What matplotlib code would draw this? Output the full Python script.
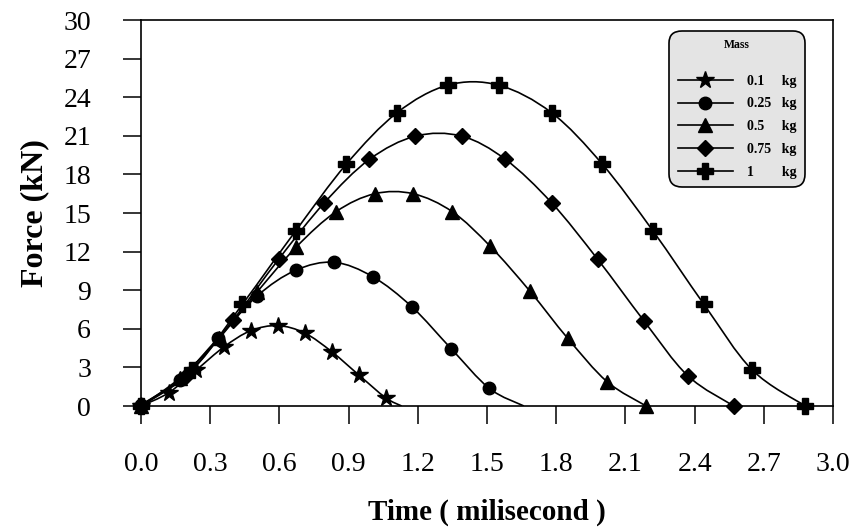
import numpy as np
import matplotlib
matplotlib.use("Agg")
import matplotlib.pyplot as plt
from matplotlib.path import Path
from matplotlib.patches import PathPatch
from matplotlib.lines import Line2D

plt.rcParams['font.family'] = ['Liberation Serif', 'DejaVu Serif']

# values (time in ms, force in kN)
masses = ["0.1", "0.25", "0.5", "0.75", "1"]

t_01 = [0.0, 0.12, 0.24, 0.36, 0.475, 0.593, 0.71, 0.827, 0.945, 1.06, 1.13]
f_01 = [0.0, 1.03, 2.8, 4.6, 5.85, 6.25, 5.67, 4.22, 2.4, 0.65, 0.0]

t_025 = [0.0, 0.168, 0.335, 0.503, 0.67, 0.837, 1.005, 1.175, 1.345, 1.51, 1.66]
f_025 = [0.1, 2.05, 5.3, 8.55, 10.55, 11.17, 10.05, 7.7, 4.45, 1.37, 0.0]

t_05 = [0.0, 0.17, 0.34, 0.505, 0.674, 0.845, 1.013, 1.18, 1.35, 1.515, 1.685, 1.85, 2.02, 2.19]
f_05 = [0.0, 2.2, 5.3, 8.9, 12.38, 15.1, 16.5, 16.5, 15.1, 12.4, 8.95, 5.26, 1.9, 0.0]

t_075 = [0.0, 0.2, 0.40, 0.597, 0.795, 0.99, 1.19, 1.39, 1.58, 1.78, 1.98, 2.18, 2.37, 2.57]
f_075 = [0.0, 2.4, 6.7, 11.42, 15.8, 19.17, 20.98, 20.98, 19.17, 15.8, 11.4, 6.63, 2.36, 0.0]

t_1 = [0.0, 0.22, 0.44, 0.67, 0.89, 1.11, 1.33, 1.55, 1.78, 2.0, 2.22, 2.44, 2.65, 2.88]
f_1 = [0.0, 2.8, 7.92, 13.6, 18.8, 22.8, 24.94, 24.94, 22.8, 18.8, 13.6, 7.92, 2.8, 0.0]

x_ticks = [0.0, 0.3, 0.6, 0.9, 1.2, 1.5, 1.8, 2.1, 2.4, 2.7, 3.0]
y_ticks = [0, 3, 6, 9, 12, 15, 18, 21, 24, 27, 30]

series = [(t_01, f_01, "*", 13, 10),
          (t_025, f_025, "o", 9, 10),
          (t_05, f_05, "^", 10.5, 14),
          (t_075, f_075, "D", 8, 14),
          (t_1, f_1, "P", 12, 14)]


def smooth_path(x, y):
    # smoothed line through the points, like a spreadsheet "smooth line"
    p = np.column_stack([x, y])
    n = len(p)
    verts = [p[0]]
    codes = [Path.MOVETO]
    for i in range(n - 1):
        p0 = p[i - 1] if i > 0 else p[i]
        p3 = p[i + 2] if i + 2 < n else p[i + 1]
        c1 = p[i] + (p[i + 1] - p0) / 6
        c2 = p[i + 1] - (p3 - p[i]) / 6
        verts += [c1, c2, p[i + 1]]
        codes += [Path.CURVE4] * 3
    return Path(verts, codes)


fig = plt.figure(figsize=(8.52, 5.29), dpi=100)
ax = fig.add_axes([0.1655, 0.2325, 0.8122, 0.7295])

handles = []
for t, f, m, ms, nmark in series:
    ax.add_patch(PathPatch(smooth_path(t, f), facecolor="none",
                           edgecolor="black", lw=1.2, zorder=2))
    ax.plot(t[:nmark], f[:nmark], linestyle="none", marker=m, ms=ms,
            color="black", clip_on=False, zorder=3)
    handles.append(Line2D([], [], color="black", lw=1.2, marker=m, ms=ms))

ax.set_xlim(0, 3)
ax.set_ylim(0, 30)
ax.set_xticks(x_ticks)
ax.set_xticklabels(["%.1f" % v for v in x_ticks])
ax.set_yticks(y_ticks)
ax.tick_params(direction="out", length=13, width=1.1, labelsize=20)
ax.tick_params(axis="x", pad=20)
ax.tick_params(axis="y", pad=23)
for s in ax.spines.values():
    s.set_linewidth(1.2)

ax.set_xlabel("Time ( milisecond )", fontsize=21, fontweight="bold", labelpad=16)
ax.set_ylabel("Force (kN)", fontsize=23, fontweight="bold", labelpad=10)

labels = ["0.1     kg", "0.25   kg", "0.5     kg", "0.75   kg", "1        kg"]
leg = ax.legend(handles, labels, title="Mass\n", loc="upper right",
                bbox_to_anchor=(0.9697, 0.99), prop={"weight": "bold", "size": 10},
                title_fontproperties={"weight": "bold", "size": 8.5},
                handlelength=4.0, handletextpad=1.0, labelspacing=0.7,
                borderpad=0.6, fancybox=True, framealpha=1)
frame = leg.get_frame()
frame.set_facecolor("#e4e4e4")
frame.set_edgecolor("black")
frame.set_linewidth(1.2)
frame.set_boxstyle("round,pad=0,rounding_size=0.9")

fig.savefig("out.png", dpi=100)
